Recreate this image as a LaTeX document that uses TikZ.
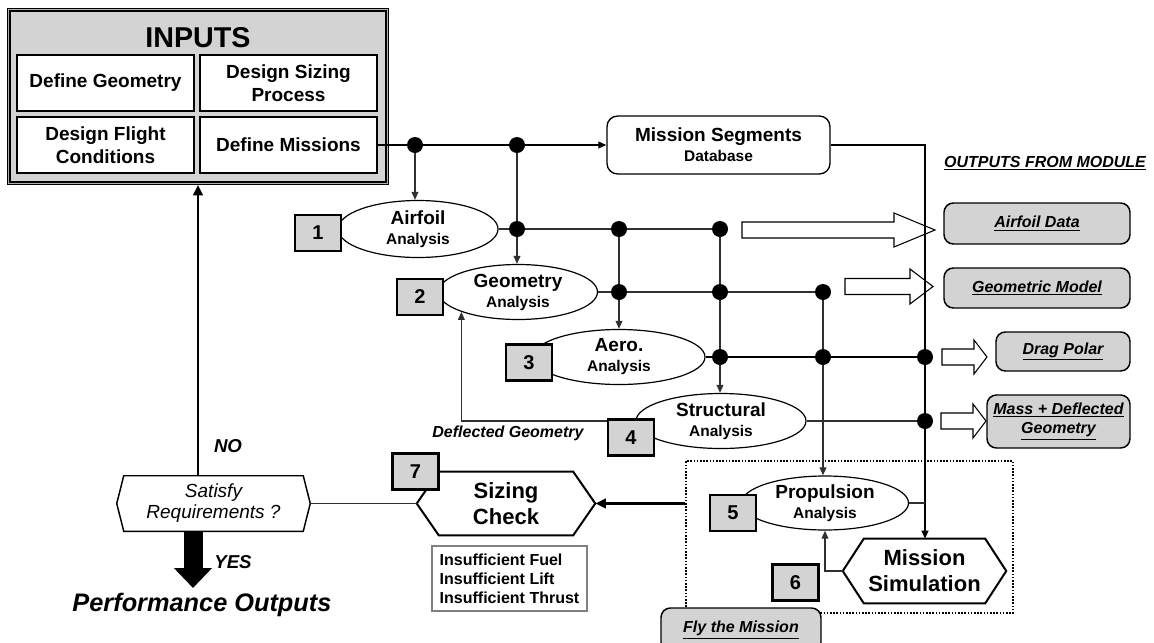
\documentclass[tikz,border=0pt]{standalone}
\usepackage{fontspec}
\setmainfont{Liberation Sans}
\usetikzlibrary{shapes.geometric,arrows.meta,calc,backgrounds}
\definecolor{boxgray}{HTML}{D3D3D3}
\definecolor{wiregray}{HTML}{303030}
\newcommand\anl[1]{{\fontsize{11.6}{15}\selectfont #1}}
\begin{document}
\begin{tikzpicture}[x=0.75pt,y=-0.75pt,
  inbox/.style={draw, line width=1.5pt, fill=white, minimum width=132.75pt, minimum height=42pt, inner sep=0pt, align=center, font=\bfseries\fontsize{14.25}{17}\selectfont},
  anal/.style={ellipse, draw, line width=0.9pt, fill=white, inner sep=0pt, align=center, font=\bfseries\fontsize{14.25}{15}\selectfont},
  numbox/.style={draw, line width=2.2pt, fill=boxgray, minimum width=34.5pt, minimum height=27pt, inner sep=0pt, font=\bfseries\fontsize{15}{15}\selectfont},
  outbox/.style={draw, line width=1.1pt, fill=boxgray, rounded corners=7pt, inner sep=0pt, align=center, font=\bfseries\itshape\fontsize{12}{14.5}\selectfont},
  hexa/.style={inner sep=0pt, align=center},
  hexline/.style={line width=1.5pt, fill=white},
  wire/.style={line width=1.1pt, draw=wiregray},
  bigwire/.style={line width=1.8pt, draw=black},
  dot/.style={circle, fill=black, inner sep=0pt, minimum size=12pt},
  arr/.style={-{Triangle[length=6pt,width=5pt]}},
  bigarr/.style={-{Triangle[length=8pt,width=7pt]}},
  hollow/.style={draw, line width=0.8pt, fill=white},
  lbl/.style={font=\bfseries\itshape\fontsize{12}{14}\selectfont, inner sep=0pt}
]
\useasboundingbox (0,0) rectangle (1154,643);
\clip (0,0) rectangle (1154,643);

% ---------- INPUTS ----------
\node[draw, line width=2.6pt, fill=boxgray, minimum width=283.5pt, minimum height=129.75pt, inner sep=0pt] (inputs) at (198,96.5) {};
\draw[line width=0.5pt, draw=gray!60] ($(inputs.north west)+(1.5,1.5)$) rectangle ($(inputs.south east)+(-1.5,-1.5)$);
\node[font=\bfseries\fontsize{21.5}{21.5}\selectfont, inner sep=0pt] (inputstitle) at (198,38) {INPUTS};
\node[inbox] (dg) at (105.5,83) {Define Geometry};
\node[inbox] (dsp) at (288.5,83) {Design Sizing\\Process};
\node[inbox] (dfc) at (105.5,145) {Design Flight\\Conditions};
\node[inbox] (dm) at (288.5,145) {Define Missions};

% ---------- Mission segments ----------
\node[draw, line width=1pt, rounded corners=8pt, minimum width=167.25pt, minimum height=43.5pt, align=center, inner sep=0pt, font=\bfseries\fontsize{14.25}{15}\selectfont] (ms) at (718.5,145) {Mission Segments\\\anl{Database}};

% ---------- analyses ----------
\node[anal, minimum width=120pt, minimum height=42.75pt] (airfoil) at (418,229) {Airfoil\\\anl{Analysis}};
\node[anal, minimum width=119.25pt, minimum height=41.25pt] (geometry) at (518,292) {Geometry\\\anl{Analysis}};
\node[anal, minimum width=129pt, minimum height=41.25pt] (aero) at (619,357) {Aero.\\\anl{Analysis}};
\node[anal, minimum width=127.5pt, minimum height=41.25pt] (structural) at (721,421) {Structural\\\anl{Analysis}};
\node[anal, minimum width=125.25pt, minimum height=40.5pt] (propulsion) at (825,503) {Propulsion\\\anl{Analysis}};

% ---------- hexagons ----------
\node[hexa, minimum width=144.75pt, minimum height=41.25pt, font=\itshape\fontsize{14.25}{15.75}\selectfont] (satisfy) at (213.5,503.5) {Satisfy\\Requirements ?};
\node[hexa, minimum width=133.5pt, minimum height=47.25pt, font=\bfseries\fontsize{16.5}{20}\selectfont] (sizing) at (506,503.5) {Sizing\\Check};
\node[hexa, minimum width=122.25pt, minimum height=48pt, font=\bfseries\fontsize{16.5}{19.5}\selectfont] (missionsim) at (924.5,571) {Mission\\Simulation};
\begin{scope}[on background layer]
\draw[hexline, line width=1.1pt] (satisfy.west) -- ($(satisfy.north west)+(7,0)$) -- ($(satisfy.north east)+(-7,0)$) -- (satisfy.east) -- ($(satisfy.south east)+(-7,0)$) -- ($(satisfy.south west)+(7,0)$) -- cycle;
\draw[hexline] (sizing.west) -- ($(sizing.north west)+(22,0)$) -- ($(sizing.north east)+(-22,0)$) -- (sizing.east) -- ($(sizing.south east)+(-22,0)$) -- ($(sizing.south west)+(22,0)$) -- cycle;
\draw[hexline] (missionsim.west) -- ($(missionsim.north west)+(21,0)$) -- ($(missionsim.north east)+(-21,0)$) -- (missionsim.east) -- ($(missionsim.south east)+(-21,0)$) -- ($(missionsim.south west)+(21,0)$) -- cycle;
\end{scope}

% ---------- dotted zone ----------
\node[draw, dash pattern=on 1.2pt off 1.2pt, line width=1.1pt, minimum width=245.25pt, minimum height=114pt, inner sep=0pt] (flyzone) at (849.5,537) {};

% ---------- insufficient ----------
\node[draw=gray, line width=1.1pt, minimum width=116.25pt, minimum height=48.75pt, align=left, inner sep=0pt, font=\bfseries\fontsize{12}{14.25}\selectfont] (insuf) at (509.5,578.5) {Insufficient Fuel\\Insufficient Lift\\Insufficient Thrust};

% ---------- output boxes ----------
\node[lbl] (outhead) at (1045,163) {\underline{OUTPUTS FROM MODULE}};
\node[outbox, minimum width=139.5pt, minimum height=30.75pt] (oairfoil) at (1037,223.5) {\underline{Airfoil Data}};
\node[outbox, minimum width=139.5pt, minimum height=30pt] (ogeom) at (1037,288) {\underline{Geometric Model}};
\node[outbox, minimum width=100.5pt, minimum height=29.25pt] (odrag) at (1063,351.5) {\underline{Drag Polar}};
\node[outbox, minimum width=107.25pt, minimum height=39.75pt] (omass) at (1058.5,421.5) {\underline{Mass + Deflected}\\\underline{Geometry}};
\node[outbox, minimum width=120pt, minimum height=33pt] (ofly) at (741,630) {\underline{Fly the Mission}};

% ---------- hollow arrows ----------
\draw[hollow] (742,222) -- (894,222) -- (894,213) -- (935,230) -- (894,247) -- (894,238) -- (742,238) -- cycle;
\draw[hollow] (845,278.5) -- (910,278.5) -- (910,269) -- (933,286.5) -- (910,304) -- (910,294.5) -- (845,294.5) -- cycle;
\draw[hollow] (942,349) -- (974,349) -- (974,340) -- (987,357) -- (974,374) -- (974,365) -- (942,365) -- cycle;
\draw[hollow] (941,413) -- (973,413) -- (973,404) -- (986,421) -- (973,438) -- (973,429) -- (941,429) -- cycle;

% ---------- junction coordinates ----------
\coordinate (ja) at (415,145);
\coordinate (jb) at (517,145);
\coordinate (r1a) at (517,229);
\coordinate (r1b) at (619,229);
\coordinate (r1c) at (720,229);
\coordinate (r2a) at (619,292);
\coordinate (r2b) at (720,292);
\coordinate (r2c) at (823,292);
\coordinate (r3a) at (720,357);
\coordinate (r3b) at (823,357);
\coordinate (r3c) at (925,357);
\coordinate (r4c) at (925,421);
\coordinate (corner) at (925,145);
\coordinate (yesend) at (193,588);

% ---------- wires ----------
\draw[line width=1.4pt, arr] (dm.east) -- (ms.west);
\draw[wire, arr] (ja) -- (ja |- airfoil.north);
\draw[wire, arr] (jb) -- (jb |- geometry.north);
\draw[wire] (airfoil.east) -- (r1c);
\draw[wire, arr] (r1b) -- (r1b |- aero.north);
\draw[wire, arr] (r1c) -- (r1c |- structural.north);
\draw[wire] (geometry.east) -- (r2c);
\draw[wire, arr] (r2c) -- (r2c |- propulsion.north);
\draw[bigwire] (aero.east) -- (r3c);
\draw[wire] (structural.east) -- (r4c);
\draw[bigwire, arr] (ms.east) -- (corner) -- (corner |- missionsim.north);
\draw[wire] (propulsion.east) -- (propulsion.east -| corner);
\draw[wire, arr] (missionsim.west) -| (propulsion.south);
\draw[wire, arr] (structural.west) -| (geometry.south west);
\draw[bigwire, line width=2pt, bigarr] (sizing.east -| flyzone.west) -- (sizing.east);
\draw[wire] (satisfy.east) -- (sizing.west);
\draw[bigwire, line width=2pt, bigarr] (inputs.south |- satisfy.north) -- (inputs.south);
\draw[line width=14.25pt, -{Triangle[length=15pt,width=27.75pt]}] (yesend |- satisfy.south) -- (yesend);

% ---------- dots ----------
\foreach \p in {ja,jb,r1a,r1b,r1c,r2a,r2b,r2c,r3a,r3b,r3c,r4c}
  \node[dot] at (\p) {};

% ---------- number boxes ----------
\node[numbox] (n1) at (318,233) {1};
\node[numbox] (n2) at (420,297) {2};
\node[numbox] (n3) at (529,362.5) {3};
\node[numbox] (n4) at (631,437.5) {4};
\node[numbox] (n5) at (733,513) {5};
\node[numbox] (n6) at (795.5,582.5) {6};
\node[numbox] (n7) at (415.5,471.5) {7};

% ---------- labels ----------
\node[lbl] (deflbl) at (508,433) {Deflected Geometry};
\node[lbl, font=\bfseries\itshape\fontsize{14}{14}\selectfont] (nolbl) at (228,446) {NO};
\node[lbl, font=\bfseries\itshape\fontsize{14}{14}\selectfont] (yeslbl) at (233,562) {YES};
\node[lbl, font=\bfseries\itshape\fontsize{19}{19}\selectfont] (perf) at (202,605) {Performance Outputs};
\end{tikzpicture}
\end{document}
